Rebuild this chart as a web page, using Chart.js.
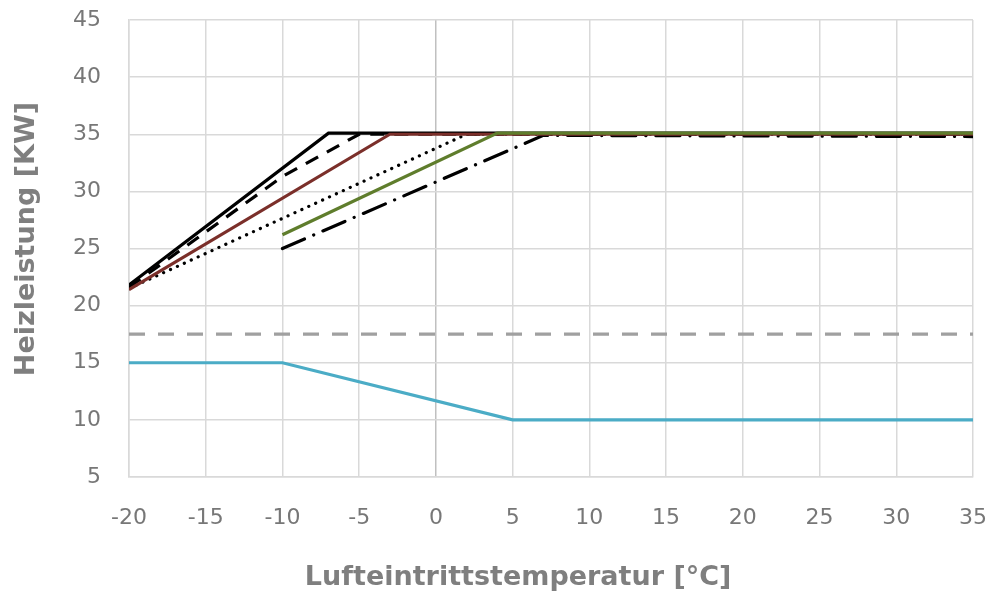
<!DOCTYPE html>
<html lang="de">
<head>
    <meta charset="UTF-8">
    <title>Heizleistung</title>
    <script src="https://cdn.jsdelivr.net/npm/chart.js"></script>
    <style>
        body { margin: 0; background: #fff; }
        .wrap { width: 1005px; height: 596px; }
    </style>
</head>
<body>
    <div class="wrap"><canvas id="chart" width="1005" height="596"></canvas></div>
    <script>
        // temperature / power points
        const blackSolidX = [-20, -7, 35];
        const blackSolidY = [21.8, 35.1, 35.1];
        const blackDashX = [-20, -10, -5, 35];
        const blackDashY = [21.6, 31.3, 35.0, 35.0];
        const brownX = [-20, -3, 35];
        const brownY = [21.4, 35.0, 35.0];
        const dottedX = [-20, 2, 35];
        const dottedY = [21.5, 35.0, 35.0];
        const dashDotX = [-10, 7, 35];
        const dashDotY = [25.0, 34.9, 34.8];
        const greenX = [-10, 4, 35];
        const greenY = [26.2, 35.1, 35.1];
        const grayX = [-20, 35];
        const grayY = [17.5, 17.5];
        const blueX = [-20, -10, 5, 35];
        const blueY = [15, 15, 10, 10];

        function pts(xs, ys) {
            return xs.map((x, i) => ({ x: x, y: ys[i] }));
        }

        function line(data, color, dash, order, cap) {
            return {
                data: data,
                borderColor: color,
                backgroundColor: color,
                borderWidth: 3.2,
                borderDash: dash,
                borderCapStyle: cap || 'butt',
                pointRadius: 0,
                fill: false,
                tension: 0,
                order: order
            };
        }

        const font = "'DejaVu Sans', sans-serif";
        const nb = '\u00a0';

        new Chart(document.getElementById('chart'), {
            type: 'line',
            data: {
                datasets: [
                    line(pts(blueX, blueY), '#4bacc6', [], 8),
                    line(pts(grayX, grayY), '#a0a0a0', [16, 13], 7),
                    line(pts(blackSolidX, blackSolidY), '#000000', [], 6),
                    line(pts(blackDashX, blackDashY), '#000000', [14, 10], 5),
                    line(pts(dashDotX, dashDotY), '#000000', [24, 10, 0.1, 10], 4, 'round'),
                    line(pts(dottedX, dottedY), '#000000', [0.1, 7.5], 3, 'round'),
                    line(pts(brownX, brownY), '#7b2f2a', [], 2),
                    line(pts(greenX, greenY), '#5f7d2c', [], 1)
                ]
            },
            options: {
                responsive: false,
                animation: false,
                layout: { padding: { top: 20, right: 32, left: 0, bottom: 0 } },
                plugins: { legend: { display: false }, tooltip: { enabled: false } },
                scales: {
                    x: {
                        type: 'linear',
                        min: -20,
                        max: 35,
                        ticks: { stepSize: 5, color: '#777777', font: { family: font, size: 22 }, padding: 28 },
                        grid: {
                            color: ctx => ctx.tick && ctx.tick.value === 0 ? '#c0c0c0' : '#d9d9d9',
                            lineWidth: 1.5,
                            drawTicks: false
                        },
                        border: { color: '#d9d9d9', width: 1.5 },
                        title: {
                            display: true,
                            // trailing spaces move the centred title a little to the left
                            text: 'Lufteintrittstemperatur [°C]' + nb.repeat(7),
                            color: '#7f7f7f',
                            font: { family: font, size: 27, weight: 'bold' },
                            padding: { top: 0, bottom: 2 }
                        },
                        afterFit: s => { s.height = 596 - 477; s.paddingLeft = 0; s.paddingRight = 0; }
                    },
                    y: {
                        min: 5,
                        max: 45,
                        ticks: { stepSize: 5, color: '#777777', font: { family: font, size: 22 }, padding: 28 },
                        grid: { color: '#d9d9d9', lineWidth: 1.5, drawTicks: false },
                        border: { color: '#d9d9d9', width: 1.5 },
                        title: {
                            display: true,
                            text: nb.repeat(2) + 'Heizleistung [KW]',
                            color: '#7f7f7f',
                            font: { family: font, size: 27, weight: 'bold' },
                            padding: { top: 11, bottom: 0 }
                        },
                        afterFit: s => { s.width = 129; s.paddingTop = 0; s.paddingBottom = 0; }
                    }
                }
            }
        });
    </script>
</body>
</html>
